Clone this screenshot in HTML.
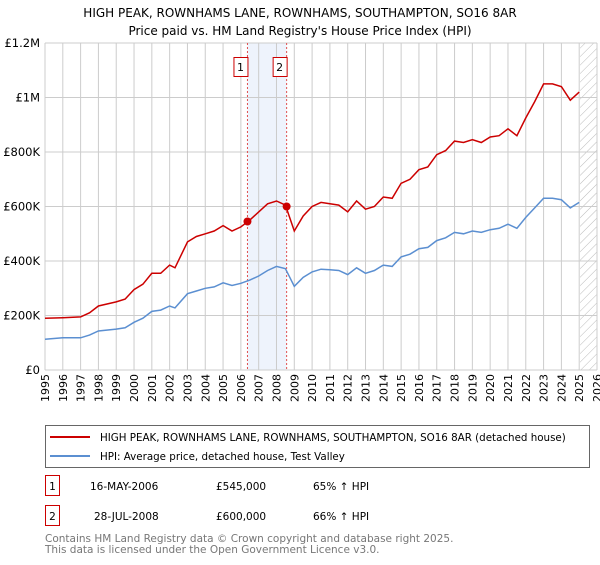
<!DOCTYPE html>
<html><head><meta charset="utf-8"><style>
body{margin:0;background:#fff;font-family:"Liberation Sans","DejaVu Sans",sans-serif}
svg text{font-family:"DejaVu Sans","Liberation Sans",sans-serif}
</style></head><body>
<svg id="c" width="600" height="560" viewBox="0 0 600 560" xmlns="http://www.w3.org/2000/svg">
<text x="300" y="17" text-anchor="middle" font-size="12">HIGH PEAK, ROWNHAMS LANE, ROWNHAMS, SOUTHAMPTON, SO16 8AR</text>
<text x="300" y="35" text-anchor="middle" font-size="12">Price paid vs. HM Land Registry's House Price Index (HPI)</text>
<defs><pattern id="hatch" width="6" height="6" patternUnits="userSpaceOnUse" patternTransform="rotate(45)"><line x1="0" y1="0" x2="0" y2="6" stroke="#bbb" stroke-width="1"/></pattern></defs>
<g id="grid"></g><g id="marks"></g>
<rect x="45.5" y="425.5" width="544" height="42" fill="none" stroke="#666"/>
<line x1="50" y1="437" x2="90" y2="437" stroke="#cc0000" stroke-width="2"/>
<text x="100" y="441" font-size="10.3">HIGH PEAK, ROWNHAMS LANE, ROWNHAMS, SOUTHAMPTON, SO16 8AR (detached house)</text>
<line x1="50" y1="456" x2="90" y2="456" stroke="#5b8fd1" stroke-width="2"/>
<text x="100" y="460" font-size="10.3">HPI: Average price, detached house, Test Valley</text>
<g font-size="10.5">
<rect x="45.5" y="475.5" width="14" height="20" fill="none" stroke="#cc0000"/><text x="52.5" y="490" text-anchor="middle">1</text>
<text x="90" y="490">16-MAY-2006</text><text x="216" y="490">£545,000</text><text x="313" y="490">65% ↑ HPI</text>
<rect x="45.5" y="505.5" width="14" height="20" fill="none" stroke="#cc0000"/><text x="52.5" y="520" text-anchor="middle">2</text>
<text x="94" y="520">28-JUL-2008</text><text x="216" y="520">£600,000</text><text x="313" y="520">66% ↑ HPI</text>
</g>
<text x="45" y="542" font-size="10.5" fill="#777">Contains HM Land Registry data © Crown copyright and database right 2025.</text>
<text x="45" y="553" font-size="10.5" fill="#777">This data is licensed under the Open Government Licence v3.0.</text>
</svg>
<script>
const years=[1995,1996,1997,1997.5,1998,1999,1999.5,2000,2000.5,2001,2001.5,2002,2002.3,2003,2003.5,2004,2004.5,2005,2005.5,2006,2006.5,2007,2007.5,2008,2008.5,2009,2009.5,2010,2010.5,2011,2011.5,2012,2012.5,2013,2013.5,2014,2014.5,2015,2015.5,2016,2016.5,2017,2017.5,2018,2018.5,2019,2019.5,2020,2020.5,2021,2021.5,2022,2022.5,2023,2023.5,2024,2024.5,2025];
const hpiValues=[113,118,118,128,143,150,155,175,190,215,220,235,228,280,290,300,305,320,310,318,330,345,365,380,372,307,340,360,370,368,365,350,375,355,365,385,380,415,425,445,450,475,485,505,500,510,505,515,520,535,520,560,595,630,630,625,595,615];
const priceValues=[190,192,195,210,235,250,260,295,315,355,355,385,375,470,490,500,510,530,510,525,550,580,610,620,605,510,565,600,615,610,605,580,620,590,600,635,630,685,700,735,745,790,805,840,835,845,835,855,860,885,860,925,985,1050,1050,1040,990,1020];
const saleDates=[2006.37,2008.57];
const salePrices=[545,600];
const yTicks=[0,200,400,600,800,1000,1200];
const yTickLabels=["£0","£200K","£400K","£600K","£800K","£1M","£1.2M"];
const xTicks=[1995,1996,1997,1998,1999,2000,2001,2002,2003,2004,2005,2006,2007,2008,2009,2010,2011,2012,2013,2014,2015,2016,2017,2018,2019,2020,2021,2022,2023,2024,2025,2026];
const L=45,R=597,T=43,B=370;
const x=v=>L+(v-1995)/(2026-1995)*(R-L);
const y=v=>B-v/1200*(B-T);
const NS="http://www.w3.org/2000/svg";
function mk(p,t,a){const e=document.createElementNS(NS,t);for(const k in a)e.setAttribute(k,a[k]);p.appendChild(e);return e;}
const g=document.getElementById('grid'),m=document.getElementById('marks');
const band=mk(g,'rect',{x:x(saleDates[0]),y:T,width:x(saleDates[1])-x(saleDates[0]),height:B-T,fill:'#eef3fc'});


const hat=mk(g,'rect',{x:x(2025.05),y:T,width:R-x(2025.05),height:B-T,fill:'url(#hatch)'});


xTicks.forEach(t=>{mk(g,'line',{x1:x(t),x2:x(t),y1:T,y2:B,stroke:'#ccc'});
const px=x(t)+4,py=B+4;
const tx=mk(g,'text',{x:px,y:py,'text-anchor':'end','font-size':'11',transform:'rotate(-90 '+px+' '+py+')'});tx.textContent=t;

});
yTicks.forEach((t,i)=>{mk(g,'line',{x1:L,x2:R,y1:y(t),y2:y(t),stroke:'#ccc'});
const tx=mk(g,'text',{x:L-5,y:y(t)+4,'text-anchor':'end','font-size':'11.5'});tx.textContent=yTickLabels[i];

});
saleDates.forEach((d,i)=>{const l=mk(g,'line',{x1:x(d),x2:x(d),y1:T,y2:B,stroke:'#e05050','stroke-dasharray':'2,2'});


const bx=mk(g,'rect',{x:x(d)-14+0.5,y:57.5,width:14,height:19,fill:'#fff',stroke:'#cc0000'});


const tx=mk(g,'text',{x:x(d)-7,y:71,'text-anchor':'middle','font-size':'11'});tx.textContent=String(i+1);});
const pts=a=>years.map((yr,i)=>x(yr).toFixed(1)+','+y(a[i]).toFixed(1)).join(' ');
const hp=mk(m,'polyline',{points:pts(hpiValues),fill:'none',stroke:'#5b8fd1','stroke-width':1.5});


const pp=mk(m,'polyline',{points:pts(priceValues),fill:'none',stroke:'#cc0000','stroke-width':1.5});


saleDates.forEach((d,i)=>{const c=mk(m,'circle',{cx:x(d),cy:y(salePrices[i]),r:4,fill:'#cc0000'});

});
</script>
</body></html>
